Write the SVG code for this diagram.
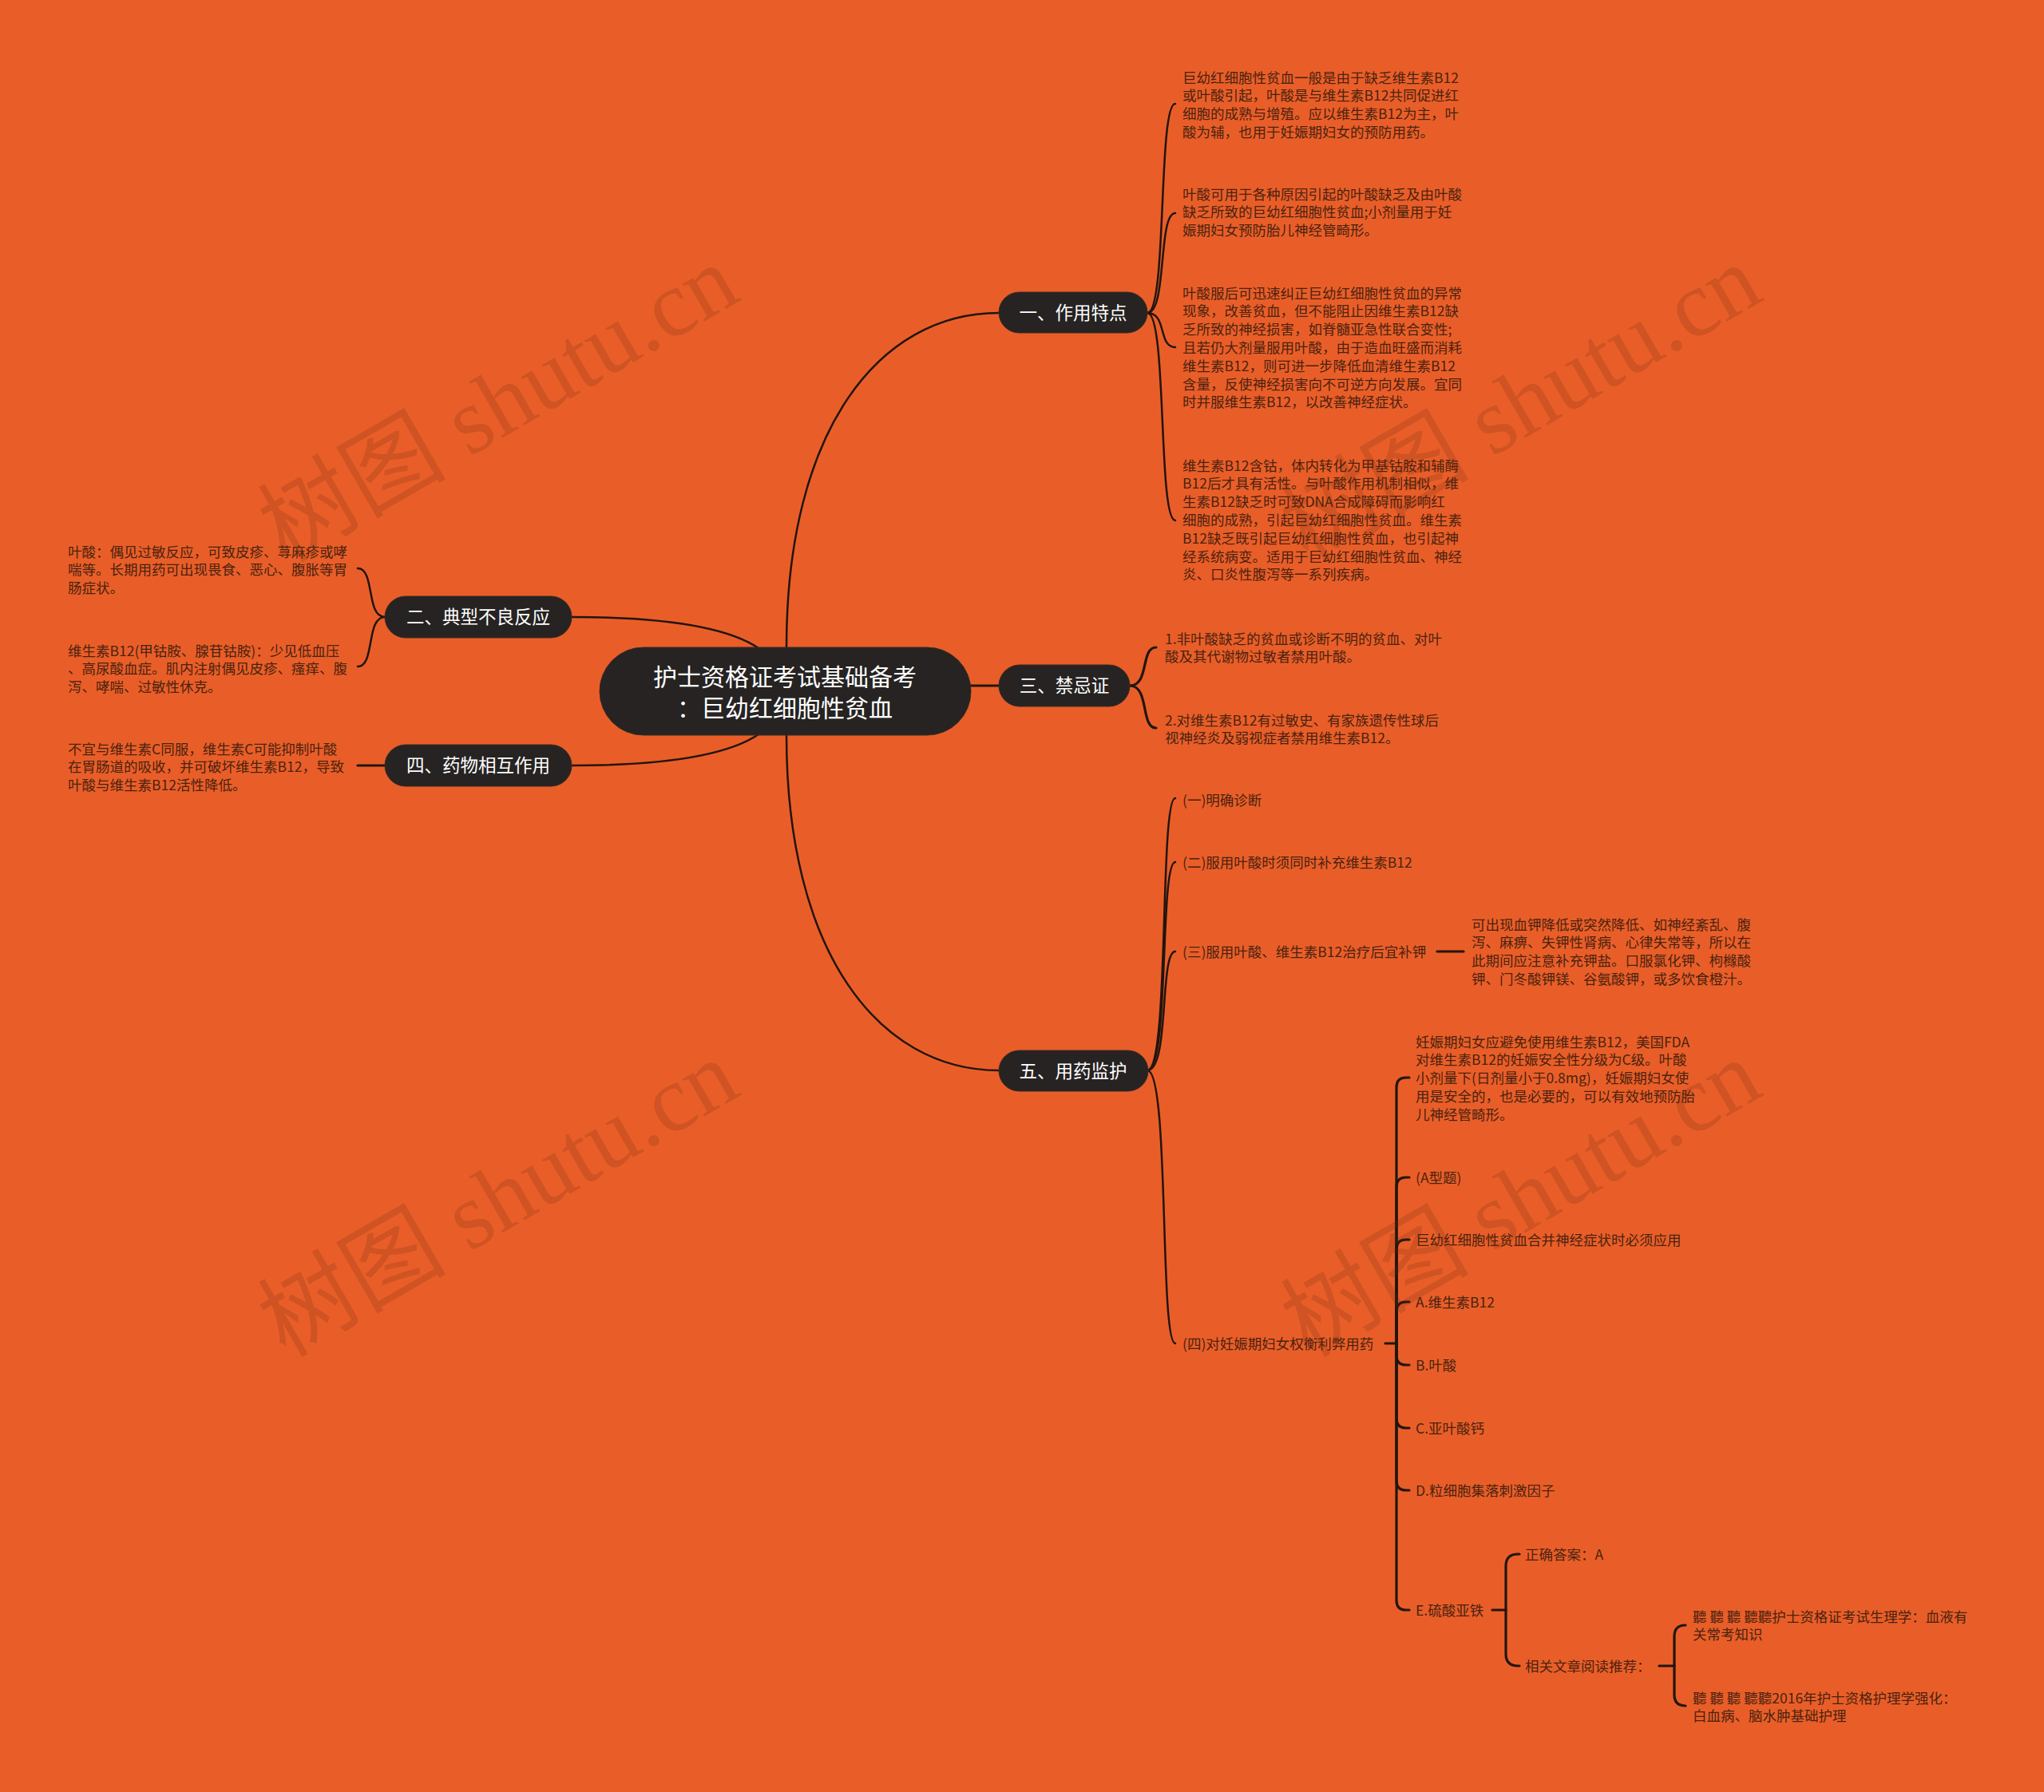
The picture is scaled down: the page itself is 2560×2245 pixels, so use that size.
<svg xmlns="http://www.w3.org/2000/svg" width="2560" height="2245" viewBox="0 0 2560 2245">
<style>
.nt{font-family:"Noto Sans CJK SC",sans-serif;fill:#ffffff;font-size:22.5px;text-anchor:middle}
.mt{font-family:"Noto Sans CJK SC",sans-serif;fill:#ffffff;font-size:30px;text-anchor:middle}
.lt{font-family:"Noto Sans CJK SC",sans-serif;fill:#4a2210;font-size:17.5px}
.c{fill:none;stroke:#22150f;stroke-width:2.5;stroke-linecap:round}
.t{stroke-width:3.2}
.pill{fill:#262322;stroke:#3a2a22;stroke-width:1}
.wm{font-family:"Liberation Serif","Noto Sans CJK SC",serif;font-size:118px;fill:#6b2a10;opacity:.2;text-anchor:middle}
</style>
<rect width="2560" height="2245" fill="#E95E28"/>
<g id="connectors">
<path class="c" d="M985 811 C985 540 1100 392 1251 392"/>
<path class="c" d="M985 921 C985 1192 1100 1341 1251 1341"/>
<path class="c" d="M716 773 C830 773 910 785 950 812"/>
<path class="c" d="M716 959 C830 959 910 947 950 920"/>
<path class="c t" d="M1216 859 H1251"/>
<path class="c" d="M1437 392 C1462 392 1450 130 1472 130"/>
<path class="c" d="M1437 392 C1462 392 1450 267 1472 267"/>
<path class="c" d="M1437 392 C1462 392 1450 435 1472 435"/>
<path class="c" d="M1437 392 C1462 392 1450 652 1472 652"/>
<path class="c t" d="M1415 859 C1440 859 1428 811 1448 811"/>
<path class="c t" d="M1415 859 C1440 859 1428 912 1448 912"/>
<path class="c" d="M482 773 C458 773 470 712 448 712"/>
<path class="c" d="M482 773 C458 773 470 835 448 835"/>
<path class="c t" d="M482 959 H448"/>
<path class="c" d="M1437 1341 C1465 1341 1452 1000 1472 1000"/>
<path class="c" d="M1437 1341 C1465 1341 1452 1080 1472 1080"/>
<path class="c" d="M1437 1341 C1465 1341 1452 1192 1472 1192"/>
<path class="c" d="M1437 1341 C1465 1341 1452 1683 1472 1683"/>
<path class="c t" d="M1800 1192 H1833"/>
<path class="c t" d="M1735 1683 H1749 V1362 Q1749 1350 1761 1350 H1765"/>
<path class="c t" d="M1749 1683 V1487 Q1749 1475 1761 1475 H1765"/>
<path class="c t" d="M1749 1683 V1565 Q1749 1553 1761 1553 H1765"/>
<path class="c t" d="M1749 1683 V1643 Q1749 1631 1761 1631 H1765"/>
<path class="c t" d="M1749 1683 V1698 Q1749 1710 1761 1710 H1765"/>
<path class="c t" d="M1749 1683 V1777 Q1749 1789 1761 1789 H1765"/>
<path class="c t" d="M1749 1683 V1855 Q1749 1867 1761 1867 H1765"/>
<path class="c t" d="M1749 1683 V2005 Q1749 2017 1761 2017 H1765"/>
<path class="c t" d="M1869 2017 H1886 V1962 Q1886 1947 1901 1947 H1903"/>
<path class="c t" d="M1886 2017 V2072 Q1886 2087 1901 2087 H1903"/>
<path class="c t" d="M2078 2087 H2097 V2050 Q2097 2036 2111 2036"/>
<path class="c t" d="M2097 2087 V2123 Q2097 2137 2111 2137"/>
</g>
<g id="root">
<rect class="pill" x="751" y="811" width="465" height="110" rx="55"/>
<text class="mt" x="983" y="859">护士资格证考试基础备考</text>
<text class="mt" x="983" y="898">：巨幼红细胞性贫血</text>
</g>
<g id="n1">
<rect class="pill" x="1251" y="366" width="186" height="51" rx="25.5"/>
<text class="nt" x="1344" y="400">一、作用特点</text>
</g>
<g id="n2">
<rect class="pill" x="482" y="747" width="234" height="52" rx="26"/>
<text class="nt" x="599" y="781">二、典型不良反应</text>
</g>
<g id="n3">
<rect class="pill" x="1251" y="833" width="164" height="52" rx="26"/>
<text class="nt" x="1333" y="867">三、禁忌证</text>
</g>
<g id="n4">
<rect class="pill" x="482" y="933" width="234" height="52" rx="26"/>
<text class="nt" x="599" y="967">四、药物相互作用</text>
</g>
<g id="n5">
<rect class="pill" x="1251" y="1316" width="187" height="51" rx="25.5"/>
<text class="nt" x="1344" y="1350">五、用药监护</text>
</g>
<g id="n1-1"><text class="lt" y="103.5"><tspan x="1481">巨幼红细胞性贫血一般是由于缺乏维生素B12</tspan><tspan x="1481" dy="22.8">或叶酸引起，叶酸是与维生素B12共同促进红</tspan><tspan x="1481" dy="22.8">细胞的成熟与增殖。应以维生素B12为主，叶</tspan><tspan x="1481" dy="22.8">酸为辅，也用于妊娠期妇女的预防用药。</tspan></text></g>
<g id="n1-2"><text class="lt" y="249.5"><tspan x="1481">叶酸可用于各种原因引起的叶酸缺乏及由叶酸</tspan><tspan x="1481" dy="22.8">缺乏所致的巨幼红细胞性贫血;小剂量用于妊</tspan><tspan x="1481" dy="22.8">娠期妇女预防胎儿神经管畸形。</tspan></text></g>
<g id="n1-3"><text class="lt" y="373.5"><tspan x="1481">叶酸服后可迅速纠正巨幼红细胞性贫血的异常</tspan><tspan x="1481" dy="22.8">现象，改善贫血，但不能阻止因维生素B12缺</tspan><tspan x="1481" dy="22.8">乏所致的神经损害，如脊髓亚急性联合变性;</tspan><tspan x="1481" dy="22.8">且若仍大剂量服用叶酸，由于造血旺盛而消耗</tspan><tspan x="1481" dy="22.8">维生素B12，则可进一步降低血清维生素B12</tspan><tspan x="1481" dy="22.8">含量，反使神经损害向不可逆方向发展。宜同</tspan><tspan x="1481" dy="22.8">时并服维生素B12，以改善神经症状。</tspan></text></g>
<g id="n1-4"><text class="lt" y="589.5"><tspan x="1481">维生素B12含钴，体内转化为甲基钴胺和辅酶</tspan><tspan x="1481" dy="22.8">B12后才具有活性。与叶酸作用机制相似，维</tspan><tspan x="1481" dy="22.8">生素B12缺乏时可致DNA合成障碍而影响红</tspan><tspan x="1481" dy="22.8">细胞的成熟，引起巨幼红细胞性贫血。维生素</tspan><tspan x="1481" dy="22.8">B12缺乏既引起巨幼红细胞性贫血，也引起神</tspan><tspan x="1481" dy="22.8">经系统病变。适用于巨幼红细胞性贫血、神经</tspan><tspan x="1481" dy="22.8">炎、口炎性腹泻等一系列疾病。</tspan></text></g>
<g id="n2-1"><text class="lt" y="697.5"><tspan x="85">叶酸：偶见过敏反应，可致皮疹、荨麻疹或哮</tspan><tspan x="85" dy="22.8">喘等。长期用药可出现畏食、恶心、腹胀等胃</tspan><tspan x="85" dy="22.8">肠症状。</tspan></text></g>
<g id="n2-2"><text class="lt" y="821.5"><tspan x="85">维生素B12(甲钴胺、腺苷钴胺)：少见低血压</tspan><tspan x="85" dy="22.8">、高尿酸血症。肌内注射偶见皮疹、瘙痒、腹</tspan><tspan x="85" dy="22.8">泻、哮喘、过敏性休克。</tspan></text></g>
<g id="n3-1"><text class="lt" y="806.5"><tspan x="1459">1.非叶酸缺乏的贫血或诊断不明的贫血、对叶</tspan><tspan x="1459" dy="22.8">酸及其代谢物过敏者禁用叶酸。</tspan></text></g>
<g id="n3-2"><text class="lt" y="908.5"><tspan x="1459">2.对维生素B12有过敏史、有家族遗传性球后</tspan><tspan x="1459" dy="22.8">视神经炎及弱视症者禁用维生素B12。</tspan></text></g>
<g id="n4-1"><text class="lt" y="944.5"><tspan x="85">不宜与维生素C同服，维生素C可能抑制叶酸</tspan><tspan x="85" dy="22.8">在胃肠道的吸收，并可破坏维生素B12，导致</tspan><tspan x="85" dy="22.8">叶酸与维生素B12活性降低。</tspan></text></g>
<g id="n5-1"><text class="lt" x="1481" y="1008.5">(一)明确诊断</text></g>
<g id="n5-2"><text class="lt" x="1481" y="1086.5">(二)服用叶酸时须同时补充维生素B12</text></g>
<g id="n5-3"><text class="lt" x="1481" y="1198.5">(三)服用叶酸、维生素B12治疗后宜补钾</text></g>
<g id="n5-3-1"><text class="lt" y="1164.5"><tspan x="1843">可出现血钾降低或突然降低、如神经紊乱、腹</tspan><tspan x="1843" dy="22.8">泻、麻痹、失钾性肾病、心律失常等，所以在</tspan><tspan x="1843" dy="22.8">此期间应注意补充钾盐。口服氯化钾、枸橼酸</tspan><tspan x="1843" dy="22.8">钾、门冬酸钾镁、谷氨酸钾，或多饮食橙汁。</tspan></text></g>
<g id="n5-4"><text class="lt" x="1481" y="1689.5">(四)对妊娠期妇女权衡利弊用药</text></g>
<g id="n5-4-1"><text class="lt" y="1311.5"><tspan x="1773">妊娠期妇女应避免使用维生素B12，美国FDA</tspan><tspan x="1773" dy="22.8">对维生素B12的妊娠安全性分级为C级。叶酸</tspan><tspan x="1773" dy="22.8">小剂量下(日剂量小于0.8mg)，妊娠期妇女使</tspan><tspan x="1773" dy="22.8">用是安全的，也是必要的，可以有效地预防胎</tspan><tspan x="1773" dy="22.8">儿神经管畸形。</tspan></text></g>
<g id="n5-4-2"><text class="lt" x="1773" y="1481.5">(A型题)</text></g>
<g id="n5-4-3"><text class="lt" x="1773" y="1559.5">巨幼红细胞性贫血合并神经症状时必须应用</text></g>
<g id="n5-4-4"><text class="lt" x="1773" y="1637.5">A.维生素B12</text></g>
<g id="n5-4-5"><text class="lt" x="1773" y="1716.5">B.叶酸</text></g>
<g id="n5-4-6"><text class="lt" x="1773" y="1795.5">C.亚叶酸钙</text></g>
<g id="n5-4-7"><text class="lt" x="1773" y="1873.5">D.粒细胞集落刺激因子</text></g>
<g id="n5-4-8"><text class="lt" x="1773" y="2023.5">E.硫酸亚铁</text></g>
<g id="n5-4-8-1"><text class="lt" x="1910" y="1953.5">正确答案：A</text></g>
<g id="n5-4-8-2"><text class="lt" x="1910" y="2093.5">相关文章阅读推荐：</text></g>
<g id="n5-4-8-2-1"><text class="lt" y="2031.5"><tspan x="2120">聽 聽 聽 聽聽护士资格证考试生理学：血液有</tspan><tspan x="2120" dy="22.8">关常考知识</tspan></text></g>
<g id="n5-4-8-2-2"><text class="lt" y="2133.5"><tspan x="2120">聽 聽 聽 聽聽2016年护士资格护理学强化：</tspan><tspan x="2120" dy="22.8">白血病、脑水肿基础护理</tspan></text></g>
<g id="watermarks">
<text class="wm" transform="translate(644 540) rotate(-30)">树图 shutu.cn</text>
<text class="wm" transform="translate(1925 540) rotate(-30)">树图 shutu.cn</text>
<text class="wm" transform="translate(644 1536) rotate(-30)">树图 shutu.cn</text>
<text class="wm" transform="translate(1925 1536) rotate(-30)">树图 shutu.cn</text>
</g>
</svg>
